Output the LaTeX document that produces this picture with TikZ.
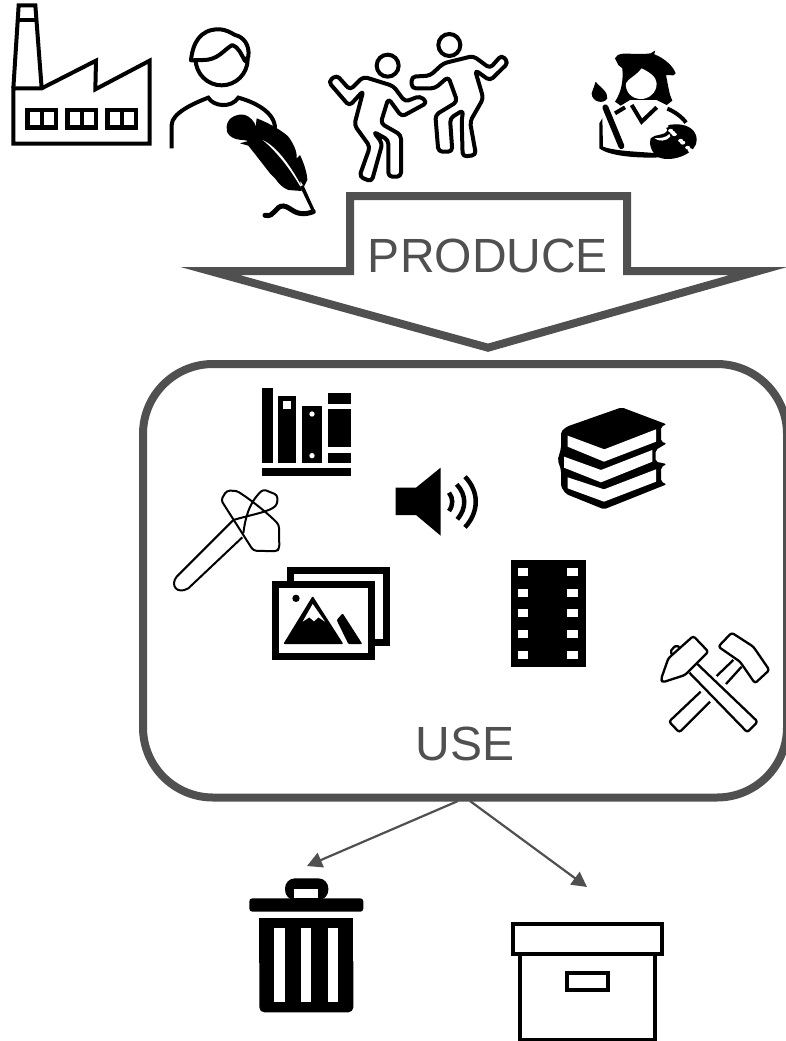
\documentclass[tikz,border=0pt]{standalone}
\usepackage{fontspec}
\setmainfont{Liberation Sans}
\usetikzlibrary{arrows.meta}
\definecolor{dk}{HTML}{505050}
\tikzset{
  zoomed/.style={x=0.33333pt,y=-0.33333pt},
  bigtext/.style={text=dk,font=\fontsize{48}{48}\selectfont,inner sep=0pt},
  conn/.style={draw=dk,line width=2.2pt,-{Triangle[length=15pt,width=15.5pt]}}
}
\begin{document}
\begin{tikzpicture}[x=1pt,y=-1pt]
\useasboundingbox (0,0) rectangle (785,1041);
% factory and writer
\begin{scope}[zoomed]
\draw[line width=4pt,line join=miter] (40,431) -- (40,265) -- (125,265) -- (288,182) -- (286,268) -- (449,182) -- (449,431) -- cycle;
\draw[line width=4pt] (40,265) -- (56,16) -- (106,16) -- (125,265);
\draw[line width=4pt] (50,61) -- (112,61);
\foreach \xa in {82,202,322}{
 \draw[line width=4.5pt] (\xa,330) rectangle ++(86,52);
 \draw[line width=3.5pt] (\xa+44,330) -- ++(0,52);
}
\draw[line width=4pt] (665,178) circle[radius=78];
\draw[line width=4pt,fill=white,line join=round] (573,181) .. controls (578,130) and (600,88) .. (655,88) .. controls (680,88) and (695,100) .. (705,105) .. controls (730,110) and (750,135) .. (745,170) -- (735,183) .. controls (725,165) and (715,140) .. (697,135) .. controls (670,150) and (655,180) .. (610,180) -- cycle;
\draw[line width=4pt,line cap=butt] (515,445) -- (515,375) .. controls (515,340) and (580,310) .. (625,293) .. controls (640,320) and (695,325) .. (715,293) .. controls (760,305) and (825,335) .. (825,385);
\end{scope}
% feather
\begin{scope}[shift={(220,105)},zoomed]
\fill[black] (70,105) .. controls (35,105) and (15,85) .. (20,65) .. controls (22,35) and (55,25) .. (75,30) .. controls (90,35) and (105,50) .. (107,65) -- (110,40) .. controls (150,55) and (190,80) .. (205,95) .. controls (220,115) and (232,140) .. (230,160) -- (240,150) .. controls (250,170) and (262,205) .. (262,225) -- (252,245) -- (240,226) -- (245,258) -- (205,255) .. controls (190,250) and (175,235) .. (165,220) -- (160,215) -- (150,205) -- (115,160) -- (85,122) -- (60,115) -- (85,108) -- cycle;
\fill[white] (128,105) .. controls (160,120) and (200,160) .. (248,250) -- (244,250) .. controls (210,190) and (170,140) .. (128,105) -- cycle;
\fill[black] (240,245) -- (250,240) -- (284,315) -- (274,316) -- cycle;
\draw[line width=5pt,line cap=round] (135,331) .. controls (165,338) and (165,302) .. (190,303) .. controls (215,305) and (225,340) .. (280,320);
\end{scope}
% dancers
\begin{scope}[shift={(320,20)},zoomed]
\draw[line width=4pt] (203,137) circle[radius=33];
\draw[line width=4pt] (388,75) circle[radius=33];
\draw[line width=4pt,rounded corners=4pt,line join=round] (130,170) -- (220,198) -- (255,245) -- (300,228) -- (322,248) -- (245,290) -- (205,235) -- (182,310) -- (243,345) -- (243,470) -- (205,470) -- (205,360) -- (160,335) -- (187,370) -- (155,485) -- (118,470) -- (150,380) -- (103,315) -- (130,212) -- (88,258) -- (25,185) -- (50,165) -- (90,210) -- cycle;
\draw[line width=4pt,rounded corners=4pt,line join=round] (275,170) -- (330,167) -- (370,130) -- (460,108) -- (510,145) -- (545,105) -- (565,128) -- (510,182) -- (465,150) -- (490,235) -- (450,305) -- (468,405) -- (428,410) -- (425,300) -- (430,270) -- (390,295) -- (397,395) -- (355,395) -- (346,285) -- (412,245) -- (385,170) -- (345,205) -- (275,205) -- cycle;
\end{scope}
% artist
\begin{scope}[shift={(590,50)},zoomed]
\fill[black] (75,25) .. controls (80,8) and (110,10) .. (130,12) .. controls (150,12) and (170,12) .. (182,10) -- (195,2) -- (193,13) .. controls (225,25) and (250,50) .. (257,70) -- (250,76) -- (228,75) .. controls (235,110) and (238,135) .. (247,152) -- (230,165) -- (200,150) -- (120,150) -- (92,167) -- (75,155) .. controls (95,125) and (100,90) .. (97,55) -- (85,45) -- cycle;
\fill[white] (108,100) .. controls (115,85) and (135,80) .. (155,55) .. controls (175,65) and (200,80) .. (200,100) .. controls (200,130) and (175,147) .. (153,147) .. controls (125,147) and (105,125) .. (108,100) -- cycle;
\draw[line width=4pt,line join=miter] (125,165) -- (155,215) -- (200,172);
\draw[line width=4pt] (232,176) .. controls (255,185) and (278,203) .. (288,218);
\draw[line width=4pt] (75,190) -- (105,172);
\fill[black] (17,95) .. controls (28,110) and (55,125) .. (52,145) .. controls (40,165) and (5,155) .. (5,130) -- cycle;
\draw[line width=6pt,line cap=round] (46,172) -- (94,288);
\fill[black] (28,220) -- (37,205) -- (39,290) .. controls (80,305) and (160,305) .. (200,310) -- (212,322) .. controls (150,325) and (60,320) .. (28,295) -- cycle;
\fill[black] (182,265) .. controls (195,250) and (225,260) .. (232,240) -- (225,228) .. controls (265,215) and (320,225) .. (320,270) .. controls (322,305) and (260,335) .. (215,325) .. controls (190,318) and (175,290) .. (182,265) -- cycle;
\fill[white] (193,264) .. controls (210,266) and (230,262) .. (238,252) -- (241,260) .. controls (230,274) and (205,276) .. (193,264) -- cycle;
\foreach \ax/\ay in {278,242, 302,248, 310,272, 300,293, 278,305, 253,312, 228,305}{
 \fill[white] (\ax,\ay) ellipse[x radius=7.5,y radius=5.5];
}
\end{scope}
% produce arrow
\node[bigtext] (produce) at (488,256) {PRODUCE};
\draw[dk,line width=8pt,line join=miter,miter limit=20] (350,271) -- (350,196) -- (627,196) -- (627,271) -- (758.5,271) -- (488,347.7) -- (210,271) -- cycle;
% use box
\node[draw=dk,line width=8pt,rounded corners=70pt,minimum width=644pt,minimum height=433.5pt,inner sep=0pt,outer sep=0pt] (usebox) at (465,580.75) {};
\node[bigtext] (uselabel) at (465,744) {USE};
% shelf, speaker, axe, pictures
\begin{scope}[shift={(160,380)},zoomed]
\fill[black] (307,25) rectangle (338,250);
\fill[black] (355,48) rectangle (409,250);
\fill[white] (370,63) rectangle (392,87);
\fill[black] (425,78) rectangle (487,250);
\fill[white] (456,102) circle[radius=8];
\fill[white] (456,227) circle[radius=8];
\fill[black] (503,40) rectangle (573,72);
\fill[black] (503,87) rectangle (573,202);
\fill[black] (503,218) rectangle (573,250);
\fill[black] (307,265) rectangle (573,288);
% speaker
\fill[black] (707,323) -- (768,323) -- (842,263) -- (842,467) -- (768,405) -- (707,405) -- cycle;
\draw[line width=4.5pt] (867,338) .. controls (880,355) and (880,375) .. (867,393);
\draw[line width=4.5pt] (890,313) .. controls (920,345) and (920,385) .. (892,418);
\draw[line width=4.5pt] (915,290) .. controls (958,335) and (958,395) .. (915,442);
% stone axe
\draw[line width=2pt,line join=round] (220,420) -- (50,590) .. controls (30,615) and (50,645) .. (85,625) -- (247,472);
\draw[line width=2pt,line join=round,rounded corners=3pt] (220,332) .. controls (240,335) and (320,395) .. (357,435) -- (358,505) -- (350,514) -- (280,512) -- (183,360) -- (200,332) -- cycle;
\draw[line width=2pt,line join=round,rounded corners=3pt] (250,460) .. controls (255,420) and (265,370) .. (310,328) -- (352,345) -- (352,372) .. controls (330,395) and (270,405) .. (220,420);
% pictures
\draw[line width=7pt] (390,602) -- (390,570) -- (678,570) -- (678,787) -- (645,787);
\draw[line width=7pt] (347,612) rectangle (635,830);
\fill[black] (408,655) circle[radius=11];
\fill[black,rounded corners=1pt] (370,792) -- (458,648) -- (550,792) -- cycle;
\fill[white] (428,725) -- (458,672) -- (495,725) -- (475,712) -- (462,724) -- (448,712) -- cycle;
\fill[black,rounded corners=1pt] (530,720) -- (548,700) -- (607,792) -- (565,792) -- cycle;
\end{scope}
% books, film, hammers
\begin{scope}[shift={(490,390)},zoomed]
\fill[black,rounded corners=2pt] (230,110) -- (395,52) -- (530,103) -- (513,110) -- (513,155) -- (530,160) -- (497,180) -- (497,215) -- (530,222) -- (513,232) -- (513,275) -- (530,283) -- (342,358) -- (228,312) -- (213,290) -- (213,240) -- (203,210) -- (213,175) -- (213,125) -- cycle;
\fill[white] (233,137) -- (343,178) -- (498,118) -- (498,155) -- (342,215) -- (233,170) -- cycle;
\fill[white] (222,200) -- (333,240) -- (487,180) -- (487,215) -- (333,277) -- (222,233) -- cycle;
\fill[white] (233,262) -- (342,298) -- (498,238) -- (498,275) -- (342,335) -- (233,295) -- cycle;
\fill[black] (63,510) rectangle (287,830);
\foreach \hy in {534,596,658,721,783}{
 \fill[white] (83,\hy) rectangle ++(32,24);
 \fill[white] (232,\hy) rectangle ++(32,24);
}
\draw[line width=2.3pt,rounded corners=2.5pt,fill=white,line join=round] (725,728) -- (790,770) -- (838,840) -- (795,880) -- (750,815) -- (685,770) -- cycle;
\draw[line width=2.3pt] (730,810) -- (680,858);
\draw[line width=2.3pt] (755,830) -- (708,882);
\draw[line width=2.3pt,rounded corners=2.5pt] (632,905) -- (537,995) -- (568,1027) -- (660,935);
\draw[line width=2.3pt,rounded corners=2.5pt,line join=round] (622,822) -- (803,995) -- (772,1027) -- (598,848);
\draw[line width=2.3pt,rounded corners=2.5pt,fill=white,line join=round] (610,738) -- (655,785) -- (585,855) -- (518,877) -- (513,868) -- (535,805) -- cycle;
\draw[line width=2.3pt,rounded corners=2pt,line join=round] (548,795) -- (540,785) -- (558,765) -- (572,775);
\end{scope}
% bin and archive box
\begin{scope}[shift={(230,790)},zoomed]
\fill[black,rounded corners=3pt] (58,365) -- (58,325) -- (400,325) -- (400,365) -- cycle;
\fill[black,rounded corners=10pt] (165,330) -- (165,265) -- (295,265) -- (295,330) -- cycle;
\fill[white] (193,297) rectangle (265,325);
\fill[black,rounded corners=5pt] (88,500) -- (88,667) -- (370,667) -- (370,500) -- cycle;
\fill[black] (88,385) rectangle (370,520);
\foreach \sx in {133,213,293}{
 \fill[white] (\sx,415) rectangle ++(31,222);
}
\draw[line width=4pt] (848,403) rectangle (1297,491);
\draw[line width=4pt] (869,491) -- (869,750) -- (1276,750) -- (1276,491);
\draw[line width=4pt] (1010,548) rectangle (1134,600);
\end{scope}
% connectors
\coordinate (startbin) at (458,801);
\coordinate (startbox) at (470,801);
\coordinate (binend) at (307,866);
\coordinate (boxend) at (587,887);
\draw[conn] (startbin) -- (binend);
\draw[conn] (startbox) -- (boxend);
\end{tikzpicture}
\end{document}
